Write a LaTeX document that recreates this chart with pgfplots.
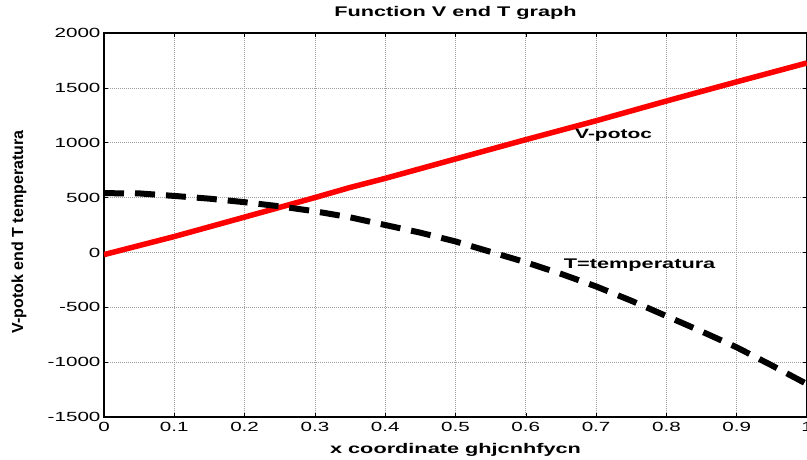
\documentclass[border=0pt]{standalone}
\usepackage{fontspec}
\setmainfont{Liberation Sans}[FakeStretch=1.55]
\newfontfamily\plainsans{Liberation Sans}
\usepackage{pgfplots}
\pgfplotsset{compat=1.18}

\begin{document}
\begin{tikzpicture}
\begin{axis}[
  at={(0,0)}, anchor=south west,
  scale only axis, width=703pt, height=384pt,
  xmin=0, xmax=1, ymin=-1500, ymax=2000,
  xtick={0,0.1,0.2,0.3,0.4,0.5,0.6,0.7,0.8,0.9,1},
  ytick={-1500,-1000,-500,0,500,1000,1500,2000},
  /pgf/number format/assume math mode=true,
  /pgf/number format/1000 sep={},
  ticklabel style={font=\fontsize{13.3}{13.3}\selectfont},
  xticklabel style={yshift=-2pt},
  tick align=inside, major tick length=4pt,
  tick style={black, line width=0.6pt},
  axis line style={black, line width=1.1pt},
  grid=major,
  major grid style={gray!75, line width=0.7pt, dash pattern=on 1pt off 1pt},
  title={Function V end T graph},
  title style={font=\bfseries\fontsize{14}{14}\selectfont,
    at={(axis description cs:0.5,1.028)}, anchor=base},
  xlabel={x coordinate ghjcnhfycn},
  xlabel style={font=\bfseries\fontsize{14}{14}\selectfont,
    at={(axis description cs:0.5,-0.094)}, anchor=base},
  ylabel={V-potok end T temperatura},
  ylabel style={font=\plainsans\bfseries\fontsize{16}{16}\selectfont,
    at={(axis description cs:-0.121,0.482)}, anchor=center},
  clip=true,
]
% V: flow
\addplot[red, line width=5.5pt, line join=round] coordinates {
  (0,-20) (0.1,145) (0.2,322) (0.3,500) (0.35,592) (0.4,675)
  (0.5,852) (0.6,1028) (0.7,1200) (0.8,1380)
  (0.9,1555) (1.0,1727)
};
% T: temperature
\addplot[black, line width=6pt, dash pattern=on 20pt off 11pt] coordinates {
  (0,540) (0.05,538) (0.1,515) (0.15,490) (0.2,458) (0.25,420)
  (0.3,375) (0.35,320) (0.4,250) (0.45,180) (0.5,100) (0.55,5)
  (0.6,-90) (0.65,-195) (0.7,-310) (0.75,-440) (0.8,-580)
  (0.85,-720) (0.9,-865) (0.95,-1030) (1.0,-1200)
};
\node[anchor=west, inner sep=0pt, font=\bfseries\fontsize{13.5}{13.5}\selectfont]
  at (axis cs:0.67,1064) {V-potoc};
\node[anchor=west, inner sep=0pt, font=\bfseries\fontsize{14}{14}\selectfont]
  at (axis cs:0.654,-118) {T=temperatura};
\end{axis}
\pgfresetboundingbox
\path (-104pt,-42pt) rectangle (703pt,417pt);
\end{tikzpicture}
\end{document}
